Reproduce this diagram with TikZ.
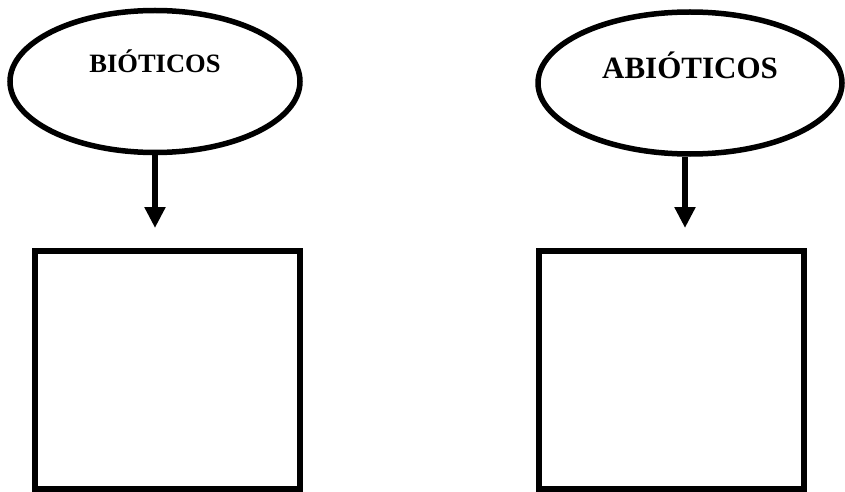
\documentclass[tikz,border=0pt]{standalone}
\usepackage{fontspec}
\setmainfont{Liberation Serif}
\usetikzlibrary{shapes.geometric,arrows.meta}
\begin{document}
\begin{tikzpicture}[x=1pt,y=-1pt,
  oval/.style={draw=black,line width=5.5pt,ellipse,inner sep=0pt},
  emptybox/.style={draw=black,line width=6pt,rectangle,inner sep=0pt,minimum width=265pt,minimum height=238pt},
  arr/.style={line width=6pt,-{Triangle[width=20pt,length=21pt]}},
  lbl/.style={font=\bfseries,inner sep=0pt}]
\useasboundingbox (0,0) rectangle (845,492);
\fill[white] (0,0) rectangle (845,492);
\node[oval,minimum width=290pt,minimum height=142pt] (ebio) at (155,81.5) {};
\node[oval,minimum width=304pt,minimum height=142pt] (eabio) at (690,83) {};
\node[lbl,font=\fontsize{26.5}{30}\selectfont\bfseries] (tbio) at (155,61) {BIÓTICOS};
\node[lbl,font=\fontsize{31}{36}\selectfont\bfseries] (tabio) at (690,65) {ABIÓTICOS};
\node[emptybox] (bbio) at (167.5,370) {};
\node[emptybox] (babio) at (671.5,370) {};
\coordinate (tipbio) at (155,228);
\coordinate (tipabio) at (685,228);
\draw[arr] (ebio.south -| tipbio) -- (tipbio);
\draw[arr] (eabio.south -| tipabio) -- (tipabio);
\end{tikzpicture}
\end{document}
